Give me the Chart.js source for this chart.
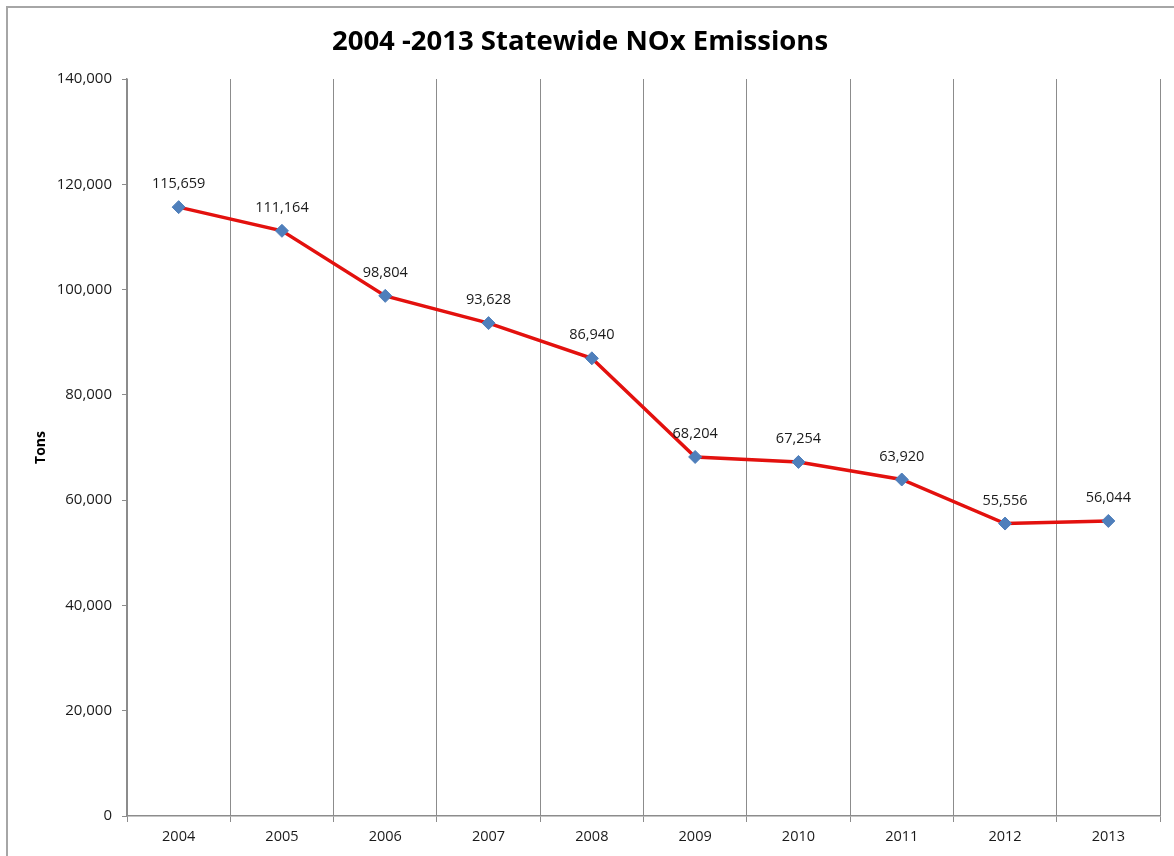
<!DOCTYPE html>
<html>
<head>
<meta charset="utf-8">
<script src="https://cdn.jsdelivr.net/npm/chart.js@4.4.0/dist/chart.umd.min.js"></script>
<style>
  html, body { margin: 0; padding: 0; background: #fff; }
  #wrap { width: 1174px; height: 856px; }
</style>
</head>
<body>
<div id="wrap"><canvas id="noxChart" width="1174" height="856"></canvas></div>
<script>
const years = ['2004', '2005', '2006', '2007', '2008', '2009', '2010', '2011', '2012', '2013'];
const noxTons = [115659, 111164, 98804, 93628, 86940, 68204, 67254, 63920, 55556, 56044];
const yTicks = [0, 20000, 40000, 60000, 80000, 100000, 120000, 140000];

const fontFamily = '"Open Sans", Lato, sans-serif';

// frame around the whole chart (runs off the right and bottom edge)
const framePlugin = {
    id: 'frame',
    beforeDraw(chart) {
        const c = chart.ctx;
        c.save();
        c.fillStyle = '#fff';
        c.fillRect(0, 0, chart.width, chart.height);
        c.strokeStyle = '#a6a6a6';
        c.lineWidth = 2;
        c.beginPath();
        c.moveTo(7, chart.height);
        c.lineTo(7, 7);
        c.lineTo(chart.width, 7);
        c.stroke();
        c.restore();
    }
};

// value labels above each point
const valueLabels = {
    id: 'valueLabels',
    afterDatasetsDraw(chart) {
        const c = chart.ctx;
        const meta = chart.getDatasetMeta(0);
        c.save();
        c.font = '14.5px ' + fontFamily;
        c.fillStyle = '#1a1a1a';
        c.textAlign = 'center';
        c.textBaseline = 'middle';
        meta.data.forEach((pt, i) => {
            c.fillText(noxTons[i].toLocaleString('en-US'), pt.x, pt.y - 23);
        });
        c.restore();
    }
};

const ctx = document.getElementById('noxChart').getContext('2d');
const noxChart = new Chart(ctx, {
    type: 'line',
    data: {
        labels: years,
        datasets: [{
            label: 'NOx',
            data: noxTons,
            borderColor: '#e3110e',
            borderWidth: 3.5,
            pointStyle: 'rectRot',
            pointRadius: 6.5,
            pointHoverRadius: 6.5,
            pointBackgroundColor: '#4f7fbb',
            pointBorderColor: '#4f7fbb',
            pointBorderWidth: 1,
            tension: 0
        }]
    },
    options: {
        responsive: false,
        animation: false,
        devicePixelRatio: 1,
        layout: { padding: { left: 0, right: 14, top: 0, bottom: 0 } },
        plugins: {
            legend: { display: false },
            tooltip: { enabled: false },
            title: {
                display: true,
                text: '2004 -2013 Statewide NOx Emissions',
                color: '#000',
                font: { family: fontFamily, size: 27.5, weight: 'bold', lineHeight: 1.2 },
                padding: { top: 26, bottom: 20 }
            }
        },
        scales: {
            x: {
                offset: true,
                grid: {
                    offset: true,
                    color: '#8c8c8c',
                    lineWidth: 1,
                    drawTicks: true,
                    tickLength: 6
                },
                border: { display: true, color: '#8c8c8c', width: 1.5 },
                ticks: {
                    color: '#1a1a1a',
                    font: { family: fontFamily, size: 14.5, lineHeight: 1.2 },
                    padding: 6,
                    maxRotation: 0
                },
                afterFit(scale) { scale.height = 40; }
            },
            y: {
                min: 0,
                max: 140000,
                afterBuildTicks(scale) {
                    scale.ticks = yTicks.map(v => ({ value: v }));
                },
                grid: {
                    drawOnChartArea: false,
                    drawTicks: true,
                    tickLength: 5,
                    color: '#8c8c8c'
                },
                border: { display: true, color: '#8c8c8c', width: 1.5 },
                ticks: {
                    color: '#1a1a1a',
                    font: { family: fontFamily, size: 15 },
                    padding: 10,
                    callback: v => v.toLocaleString('en-US')
                },
                title: {
                    display: true,
                    text: 'Tons',
                    color: '#000',
                    font: { family: fontFamily, size: 14, weight: 'bold', lineHeight: 1.2 },
                    padding: { top: 33, bottom: 0 }
                },
                afterFit(scale) { scale.width = 127; }
            }
        }
    },
    plugins: [framePlugin, valueLabels]
});
</script>
</body>
</html>
